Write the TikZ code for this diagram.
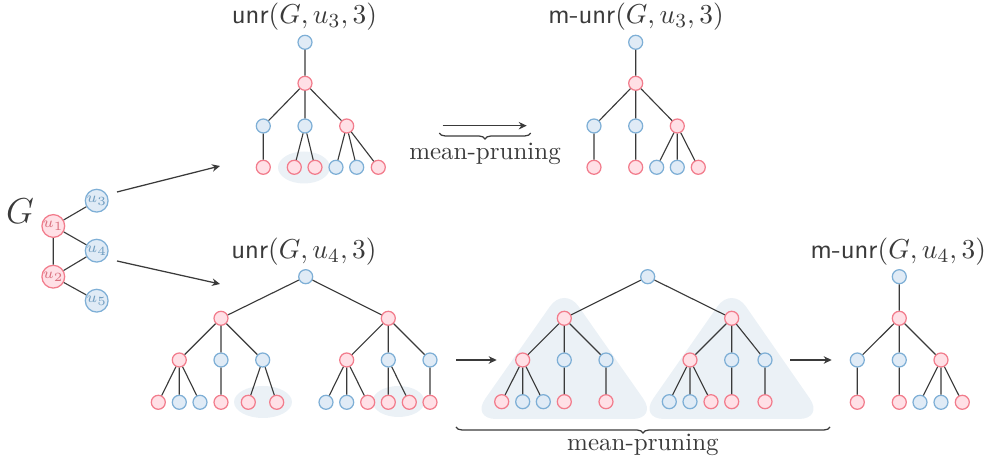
\documentclass[tikz,border=0pt]{standalone}
\usetikzlibrary{arrows.meta,decorations.pathreplacing}
\definecolor{redB}{HTML}{F27C8C}
\definecolor{redF}{HTML}{FFE0E6}
\definecolor{bluB}{HTML}{7EAFD6}
\definecolor{bluF}{HTML}{E0EBF6}
\definecolor{hil}{HTML}{EBF1F6}
\definecolor{ink}{HTML}{3A3A3A}
\begin{document}
\begin{tikzpicture}[x=0.4pt,y=-0.4pt,
  rn/.style={circle,draw=redB,fill=redF,line width=0.5pt,inner sep=0pt,minimum size=5.6pt},
  bn/.style={circle,draw=bluB,fill=bluF,line width=0.5pt,inner sep=0pt,minimum size=5.6pt},
  grn/.style={rn,minimum size=7.6pt,text=redB!90!black,font=\fontsize{6}{6}\selectfont},
  gbn/.style={bn,minimum size=7.6pt,text=bluB!90!black,font=\fontsize{6}{6}\selectfont},
  ed/.style={draw=ink,line width=0.45pt},
  arr/.style={draw=ink,line width=0.5pt,-{Stealth[length=3.2pt,width=3pt]}},
  brc/.style={draw=ink,line width=0.5pt,decorate,decoration={brace,mirror,amplitude=2.4pt}},
  lab/.style={text=ink,font=\fontsize{11}{13}\selectfont,inner sep=0pt},
  txt/.style={text=ink,font=\fontsize{10}{12}\selectfont,inner sep=0pt}]
\useasboundingbox (0,0) rectangle (989,464);

% highlights
\fill[hil] (304,167.5) ellipse [x radius=26, y radius=16];
\fill[hil] (263,402) ellipse [x radius=29, y radius=16];
\fill[hil] (398.5,401.5) ellipse [x radius=26, y radius=15.5];
\fill[hil,rounded corners=10pt] (564.3,286) -- (471,419) -- (657.5,419) -- cycle;
\fill[hil,rounded corners=10pt] (731.7,286) -- (639,419) -- (824,419) -- cycle;

% graph G
\node[text=ink,font=\fontsize{15}{15}\selectfont,inner sep=0pt] (Glab) at (20,211) {$G$};
\node[grn] (u1) at (53.3,226) {$u_1$};
\node[grn] (u2) at (53.3,276.7) {$u_2$};
\node[gbn] (u3) at (96.7,200.7) {$u_3$};
\node[gbn] (u4) at (96.7,250.7) {$u_4$};
\node[gbn] (u5) at (96.7,300.7) {$u_5$};
\draw[ed] (u1)--(u3) (u1)--(u4) (u1)--(u2) (u2)--(u4) (u2)--(u5);

% arrows from G
\coordinate (g1s) at (117,192); \coordinate (g1e) at (220,166);
\coordinate (g2s) at (117,261); \coordinate (g2e) at (220,284);
\draw[arr] (g1s)--(g1e);
\draw[arr] (g2s)--(g2e);

% top unr tree
\node[lab] (la) at (304.5,17) {$\textsf{unr}(G,u_3,3)$};
\node[bn] (a0) at (305,42.3) {};
\node[rn] (a1) at (305,83.3) {};
\node[bn] (a21) at (263.3,126) {};
\node[bn] (a22) at (305,126) {};
\node[rn] (a23) at (346.7,126) {};
\node[rn] (a31) at (263.3,167.3) {};
\node[rn] (a32) at (294.3,167.3) {};
\node[rn] (a33) at (315,167.3) {};
\node[bn] (a34) at (336,167.3) {};
\node[bn] (a35) at (356.7,167.3) {};
\node[rn] (a36) at (378.3,167.3) {};
\draw[ed] (a0)--(a1) (a1)--(a21) (a1)--(a22) (a1)--(a23)
  (a21)--(a31) (a22)--(a32) (a22)--(a33) (a23)--(a34) (a23)--(a35) (a23)--(a36);

% top middle arrow + brace
\coordinate (t1s) at (442.7,125.7); \coordinate (t1e) at (526.7,125.7);
\draw[arr] (t1s)--(t1e);
\coordinate (tb1) at (439.3,133); \coordinate (tb2) at (530.7,133);
\draw[brc] (tb1)--(tb2);
\node[txt] (mp1) at (485,154) {mean-pruning};

% top m-unr tree
\node[lab] (lb) at (636,17) {$\textsf{m-unr}(G,u_3,3)$};
\node[bn] (b0) at (635.7,42.3) {};
\node[rn] (b1) at (635.7,83.3) {};
\node[bn] (b21) at (594,126) {};
\node[bn] (b22) at (635.7,126) {};
\node[rn] (b23) at (677.3,126) {};
\node[rn] (b31) at (594,167.3) {};
\node[rn] (b32) at (635.7,167.3) {};
\node[bn] (b33) at (656.7,167.3) {};
\node[bn] (b34) at (677.3,167.3) {};
\node[rn] (b35) at (698.3,167.3) {};
\draw[ed] (b0)--(b1) (b1)--(b21) (b1)--(b22) (b1)--(b23)
  (b21)--(b31) (b22)--(b32) (b23)--(b33) (b23)--(b34) (b23)--(b35);

% bottom unr tree
\node[lab] (lc) at (304,251.7) {$\textsf{unr}(G,u_4,3)$};
\node[bn] (c0) at (305.7,276.7) {};
\node[rn] (c1L) at (221,318.3) {};
\node[rn] (c1R) at (388.3,318.3) {};
\node[rn] (c21) at (179.3,360) {};
\node[bn] (c22) at (221,360) {};
\node[bn] (c23) at (262.7,360) {};
\node[rn] (c24) at (346.7,360) {};
\node[bn] (c25) at (388.3,360) {};
\node[bn] (c26) at (430,360) {};
\node[rn] (c31) at (158.3,402.3) {};
\node[bn] (c32) at (179.3,402.3) {};
\node[bn] (c33) at (200,402.3) {};
\node[rn] (c34) at (221,402.3) {};
\node[rn] (c35) at (248.3,402.3) {};
\node[rn] (c36) at (276.7,402.3) {};
\node[bn] (c37) at (326,402.3) {};
\node[bn] (c38) at (346.7,402.3) {};
\node[rn] (c39) at (367.7,402.3) {};
\node[rn] (c310) at (388.3,402.3) {};
\node[rn] (c311) at (409.3,402.3) {};
\node[rn] (c312) at (430,402.3) {};
\draw[ed] (c0)--(c1L) (c0)--(c1R)
  (c1L)--(c21) (c1L)--(c22) (c1L)--(c23)
  (c1R)--(c24) (c1R)--(c25) (c1R)--(c26)
  (c21)--(c31) (c21)--(c32) (c21)--(c33) (c22)--(c34) (c23)--(c35) (c23)--(c36)
  (c24)--(c37) (c24)--(c38) (c24)--(c39) (c25)--(c310) (c25)--(c311) (c26)--(c312);

% arrows bottom
\coordinate (m1s) at (456,360); \coordinate (m1e) at (496.7,360);
\draw[arr] (m1s)--(m1e);
\coordinate (m2s) at (790,360); \coordinate (m2e) at (831.7,360);
\draw[arr] (m2s)--(m2e);

% pruned middle tree
\node[bn] (d0) at (647.7,276.7) {};
\node[rn] (d1L) at (564.3,318.3) {};
\node[rn] (d1R) at (731.7,318.3) {};
\node[rn] (d21) at (522.7,360) {};
\node[bn] (d22) at (564.3,360) {};
\node[bn] (d23) at (606,360) {};
\node[rn] (d24) at (690,360) {};
\node[bn] (d25) at (731.7,360) {};
\node[bn] (d26) at (765,360) {};
\node[rn] (d31) at (501.7,401.7) {};
\node[bn] (d32) at (522.7,401.7) {};
\node[bn] (d33) at (543.3,401.7) {};
\node[rn] (d34) at (564.3,401.7) {};
\node[rn] (d35) at (606,401.7) {};
\node[bn] (d36) at (669.3,401.7) {};
\node[bn] (d37) at (690,401.7) {};
\node[rn] (d38) at (711,401.7) {};
\node[rn] (d39) at (731.7,401.7) {};
\node[rn] (d310) at (765,401.7) {};
\draw[ed] (d0)--(d1L) (d0)--(d1R)
  (d1L)--(d21) (d1L)--(d22) (d1L)--(d23)
  (d1R)--(d24) (d1R)--(d25) (d1R)--(d26)
  (d21)--(d31) (d21)--(d32) (d21)--(d33) (d22)--(d34) (d23)--(d35)
  (d24)--(d36) (d24)--(d37) (d24)--(d38) (d25)--(d39) (d26)--(d310);

% bottom brace
\coordinate (bb1) at (456,427); \coordinate (bb2) at (830,427);
\draw[brc] (bb1)--(bb2);
\node[txt] (mp2) at (643,445) {mean-pruning};

% bottom m-unr tree
\node[lab] (le) at (898.3,251.7) {$\textsf{m-unr}(G,u_4,3)$};
\node[bn] (e0) at (899.3,276.7) {};
\node[rn] (e1) at (899.3,318.3) {};
\node[bn] (e21) at (857.3,360) {};
\node[bn] (e22) at (899.3,360) {};
\node[rn] (e23) at (941,360) {};
\node[rn] (e31) at (857.3,402.3) {};
\node[rn] (e32) at (899.3,402.3) {};
\node[bn] (e33) at (920,402.3) {};
\node[bn] (e34) at (941,402.3) {};
\node[rn] (e35) at (962.3,402.3) {};
\draw[ed] (e0)--(e1) (e1)--(e21) (e1)--(e22) (e1)--(e23)
  (e21)--(e31) (e22)--(e32) (e23)--(e33) (e23)--(e34) (e23)--(e35);
\end{tikzpicture}
\end{document}
